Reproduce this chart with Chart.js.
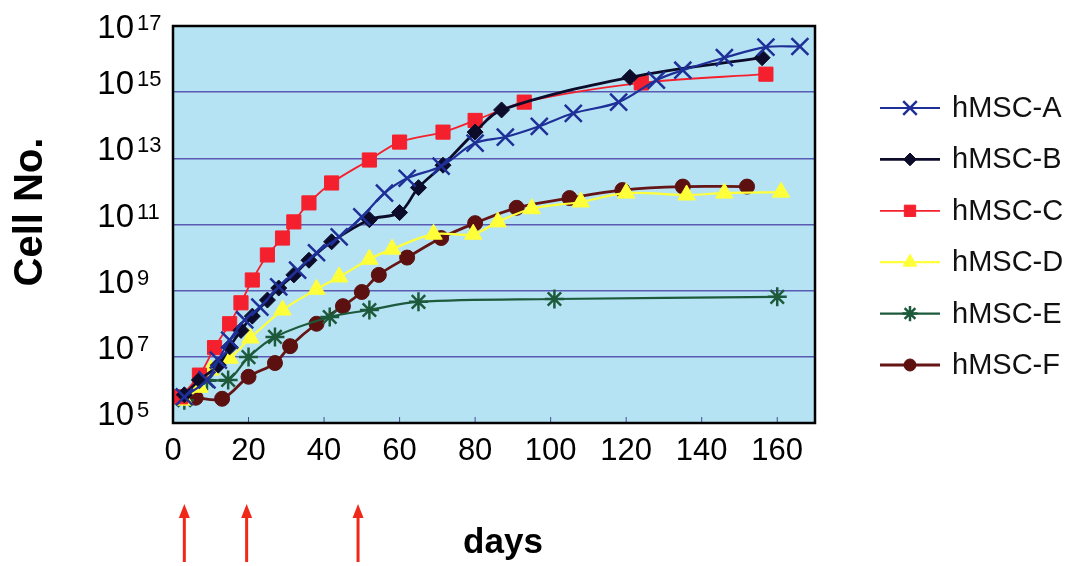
<!DOCTYPE html>
<html>
<head>
<meta charset="utf-8">
<script src="https://cdn.jsdelivr.net/npm/chart.js@4.4.1/dist/chart.umd.min.js"></script>
<style>
  html, body { margin: 0; padding: 0; background: #fff; }
  #wrap { width: 1090px; height: 566px; }
</style>
</head>
<body>
<div id="wrap"><canvas id="growth" width="1090" height="566"></canvas></div>
<script>
// culture days and cumulative cell numbers
const daysA  = [3, 9, 12, 15, 19, 23, 28, 33, 38, 44, 50, 56, 62, 71, 80, 88, 97, 106, 118, 128, 135, 146, 157, 166];
const cellsA = [6.2e5, 2.0e6, 7.9e6, 3.2e7, 1.3e8, 3.2e8, 1.3e9, 4.2e9, 1.4e10, 4.2e10, 1.7e11, 8.9e11, 2.5e12, 5.8e12, 2.9e13, 4.4e13, 9.3e13, 2.3e14, 5.0e14, 2.3e15, 4.6e15, 1.1e16, 2.3e16, 2.4e16];

const daysB  = [3, 7, 12, 15, 18, 21, 25, 28, 32, 36, 42, 52, 60, 65, 71.5, 80, 87, 121, 156];
const cellsB = [7.1e5, 2.0e6, 5.6e6, 2.0e7, 6.3e7, 1.7e8, 5.2e8, 1.2e9, 3.0e9, 8.3e9, 3.0e10, 1.4e11, 2.3e11, 1.3e12, 6.2e12, 6.2e13, 2.9e14, 2.8e15, 1.1e16];

const daysC  = [2, 7, 11, 15, 18, 21, 25, 29, 32, 36, 42, 52, 60, 71.5, 80, 93, 124, 157];
const cellsC = [6.2e5, 2.8e6, 1.9e7, 1.0e8, 4.3e8, 2.1e9, 1.2e10, 3.9e10, 1.2e11, 4.5e11, 1.8e12, 8.9e12, 3.1e13, 6.2e13, 1.4e14, 5.0e14, 1.9e15, 3.5e15];

const daysD  = [3, 7, 10, 15, 20.5, 29, 38, 44, 52, 58, 69, 79.5, 86, 95, 108, 120, 136, 146, 161];
const cellsD = [4.9e5, 1.2e6, 4.0e6, 9.1e6, 3.7e7, 2.6e8, 1.1e9, 2.6e9, 8.9e9, 1.8e10, 5.1e10, 5.1e10, 1.2e11, 3.0e11, 4.8e11, 8.9e11, 7.8e11, 8.9e11, 9.5e11];

const daysE  = [3, 9, 14.6, 20, 27, 41.5, 52, 65, 101, 160];
const cellsE = [4.9e5, 1.9e6, 2.0e6, 9.8e6, 4.0e7, 1.6e8, 2.6e8, 4.6e8, 5.6e8, 6.5e8];

const daysF  = [6, 13, 20, 27, 31, 38, 45, 50, 54.5, 62, 71, 80, 91, 105, 119, 135, 152];
const cellsF = [5.8e5, 5.4e5, 2.5e6, 6.5e6, 2.1e7, 1.0e8, 3.4e8, 9.1e8, 3.0e9, 1.0e10, 3.9e10, 1.1e11, 3.2e11, 6.3e11, 1.1e12, 1.4e12, 1.4e12];

const seriesNames = ['hMSC-A', 'hMSC-B', 'hMSC-C', 'hMSC-D', 'hMSC-E', 'hMSC-F'];
const xTicks = [0, 20, 40, 60, 80, 100, 120, 140, 160];
const yTicks = [1e5, 1e7, 1e9, 1e11, 1e13, 1e15, 1e17];
const yExps  = ['5', '7', '9', '11', '13', '15', '17'];
const arrowDays = [3, 19.5, 49];

const FONT = '"Liberation Sans", Arial, sans-serif';

const looks = [
  { line: '#1f2f98', fill: '#1f2f98', point: 'crossRot', r: 12,  pw: 2.5, lw: 2.2 },
  { line: '#0c0c2a', fill: '#0c0c2a', point: 'rectRot',  r: 8,   pw: 1,   lw: 2.8 },
  { line: '#f5202e', fill: '#f5202e', point: 'rect',     r: 10,  pw: 1,   lw: 1.8 },
  { line: '#ffff3a', fill: '#ffff3a', point: 'triangle', r: 10,  pw: 1,   lw: 2.2 },
  { line: '#1d5a3c', fill: '#1d5a3c', point: 'star',     r: 9.5, pw: 2.5, lw: 2.2 },
  { line: '#651515', fill: '#5c1010', point: 'circle',   r: 7.5, pw: 1,   lw: 2.8 }
];

const allDays = [daysA, daysB, daysC, daysD, daysE, daysF];
const allCells = [cellsA, cellsB, cellsC, cellsD, cellsE, cellsF];

const datasets = seriesNames.map((name, s) => ({
  label: name,
  data: allDays[s].map((d, i) => ({ x: d, y: allCells[s][i] })),
  borderColor: looks[s].line,
  backgroundColor: looks[s].fill,
  borderWidth: looks[s].lw,
  pointStyle: looks[s].point,
  pointRadius: looks[s].r,
  pointHoverRadius: looks[s].r,
  pointBorderColor: looks[s].fill,
  pointBackgroundColor: looks[s].fill,
  pointBorderWidth: looks[s].pw,
  tension: 0.35,
  fill: false
}));

const decor = {
  id: 'decor',
  beforeDraw(chart) {
    const { ctx, chartArea: a } = chart;
    ctx.save();
    ctx.fillStyle = '#fff';
    ctx.fillRect(0, 0, chart.width, chart.height);
    ctx.fillStyle = '#b5e3f3';
    ctx.fillRect(a.left, a.top, a.right - a.left, a.bottom - a.top);
    ctx.restore();
  },
  afterDraw(chart) {
    const { ctx, chartArea: a, scales: { x, y } } = chart;
    ctx.save();

    // little tick marks inside the bottom edge
    ctx.strokeStyle = '#4a4a90';
    ctx.lineWidth = 1;
    xTicks.forEach(v => {
      const px = x.getPixelForValue(v);
      ctx.beginPath();
      ctx.moveTo(px, a.bottom);
      ctx.lineTo(px, a.bottom - 6);
      ctx.stroke();
    });

    // frame
    ctx.strokeStyle = '#000';
    ctx.lineWidth = 2.5;
    ctx.strokeRect(a.left, a.top, a.right - a.left, a.bottom - a.top);

    // y tick labels as 10 with raised exponent
    ctx.fillStyle = '#000';
    ctx.textBaseline = 'alphabetic';
    yTicks.forEach((v, i) => {
      const base = Math.max(y.getPixelForValue(v) + 2, a.top + 12);
      ctx.font = '33px ' + FONT;
      ctx.textAlign = 'right';
      ctx.fillText('10', 134, base);
      ctx.font = '22px ' + FONT;
      ctx.textAlign = 'left';
      ctx.fillText(yExps[i], 137, base - 8);
    });

    // axis titles
    ctx.font = 'bold 40px ' + FONT;
    ctx.textAlign = 'center';
    ctx.textBaseline = 'middle';
    ctx.save();
    ctx.translate(31, 212);
    ctx.rotate(-Math.PI / 2);
    ctx.fillText('Cell No.', 0, 0);
    ctx.restore();
    ctx.font = 'bold 35px ' + FONT;
    ctx.fillText('days', 503, 543);

    // red arrows under the axis
    ctx.strokeStyle = '#f02818';
    ctx.fillStyle = '#f02818';
    ctx.lineWidth = 3;
    arrowDays.forEach(d => {
      const px = x.getPixelForValue(d);
      ctx.beginPath();
      ctx.moveTo(px, 562);
      ctx.lineTo(px, 515);
      ctx.stroke();
      ctx.beginPath();
      ctx.moveTo(px, 504);
      ctx.lineTo(px - 5.5, 518);
      ctx.lineTo(px + 5.5, 518);
      ctx.closePath();
      ctx.fill();
    });

    // legend: line sample with marker, then name
    const drawPoint = Chart.helpers && Chart.helpers.drawPoint;
    seriesNames.forEach((name, i) => {
      const ry = 108 + i * 51.4;
      const lk = looks[i];
      ctx.strokeStyle = lk.line;
      ctx.lineWidth = lk.lw;
      ctx.beginPath();
      ctx.moveTo(880, ry);
      ctx.lineTo(940, ry);
      ctx.stroke();
      if (drawPoint) {
        ctx.strokeStyle = lk.fill;
        ctx.fillStyle = lk.fill;
        ctx.lineWidth = lk.pw;
        drawPoint(ctx, { pointStyle: lk.point, radius: lk.r * 0.8, rotation: 0, borderWidth: lk.pw }, 910, ry);
      }
      ctx.fillStyle = '#111';
      ctx.font = '29px ' + FONT;
      ctx.textAlign = 'left';
      ctx.textBaseline = 'middle';
      ctx.fillText(name, 952, ry + 1);
    });

    ctx.restore();
  }
};

Chart.defaults.font.family = FONT;

new Chart(document.getElementById('growth'), {
  type: 'line',
  data: { datasets: datasets },
  options: {
    responsive: false,
    animation: false,
    layout: { padding: { top: 26, right: 275, left: 0, bottom: 0 } },
    plugins: { legend: { display: false }, tooltip: { enabled: false } },
    scales: {
      x: {
        type: 'linear',
        min: 0,
        max: 170,
        afterBuildTicks: scale => { scale.ticks = xTicks.map(v => ({ value: v })); },
        afterFit: scale => { scale.height = 143; },
        grid: { display: false, drawTicks: false },
        border: { display: false },
        ticks: { color: '#000', font: { size: 31 }, padding: 10, maxRotation: 0, autoSkip: false }
      },
      y: {
        type: 'logarithmic',
        min: 1e5,
        max: 1e17,
        afterBuildTicks: scale => { scale.ticks = yTicks.map(v => ({ value: v })); },
        afterFit: scale => { scale.width = 173; },
        grid: { color: '#5a5ab4', lineWidth: 1.5, drawTicks: false },
        border: { display: false },
        ticks: { display: false }
      }
    }
  },
  plugins: [decor]
});
</script>
</body>
</html>
